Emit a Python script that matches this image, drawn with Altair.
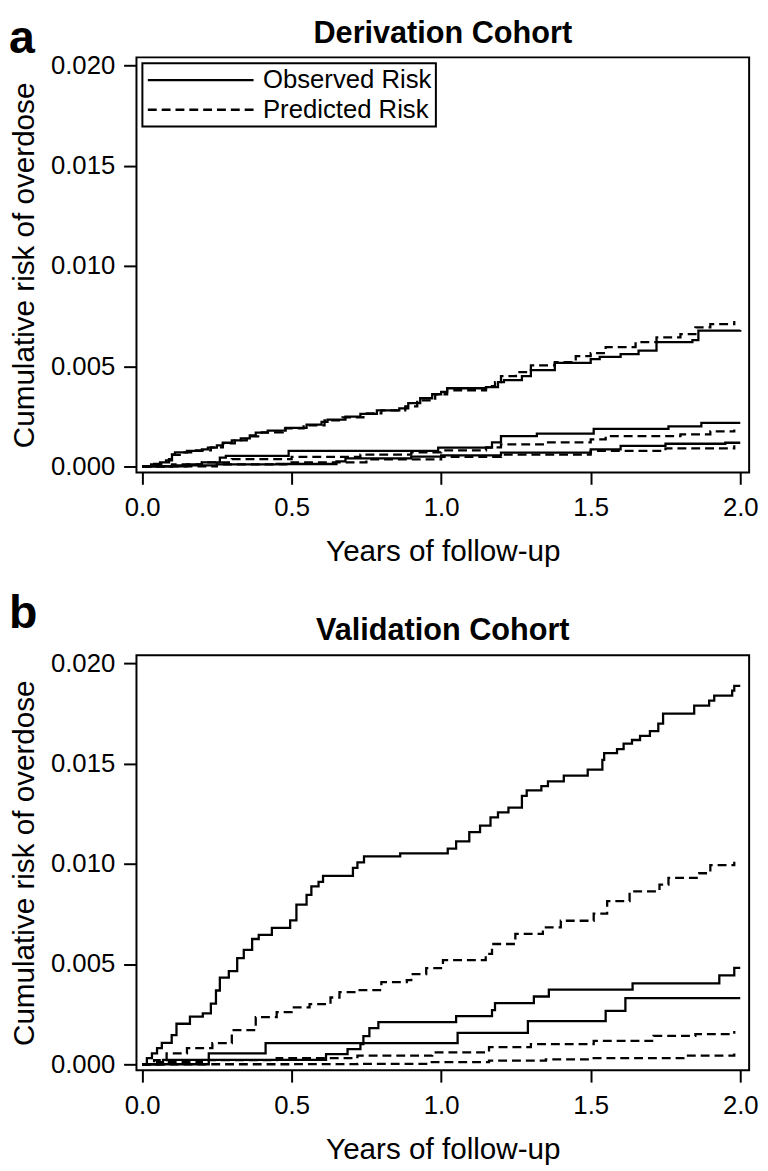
import altair as alt
import pandas as pd

# ---------------- data ----------------
# Derivation cohort (panel a)
der_obs_high = [(0, 0), (0.03, 0.0001), (0.06, 0.0002), (0.09, 0.00036), (0.10, 0.0006), (0.11, 0.0007),
                (0.15, 0.00077), (0.20, 0.00085), (0.22, 0.00094), (0.25, 0.00105), (0.27, 0.00118),
                (0.30, 0.0013), (0.33, 0.0014), (0.36, 0.00155), (0.38, 0.00168), (0.42, 0.00178),
                (0.48, 0.00192), (0.55, 0.00209), (0.60, 0.00222), (0.62, 0.00233), (0.68, 0.00248),
                (0.73, 0.00262), (0.785, 0.0028), (0.86, 0.0029), (0.89, 0.00316), (0.93, 0.0034),
                (0.97, 0.0036), (1.00, 0.00372), (1.02, 0.0039), (1.15, 0.00395), (1.19, 0.0042),
                (1.21, 0.0043), (1.27, 0.0045), (1.30, 0.0048), (1.38, 0.00516), (1.50, 0.00535),
                (1.53, 0.00546), (1.60, 0.0056), (1.66, 0.00578), (1.72, 0.0062), (1.84, 0.0063),
                (1.86, 0.00677), (2.00, 0.0068)]
der_pred_high = [(0, 0), (0.04, 0.00012), (0.08, 0.0003), (0.10, 0.00058), (0.13, 0.0007), (0.18, 0.0008),
                 (0.23, 0.00095), (0.27, 0.00115), (0.31, 0.0013), (0.35, 0.0015), (0.40, 0.0017),
                 (0.47, 0.0019), (0.54, 0.00205), (0.61, 0.0023), (0.67, 0.00245), (0.74, 0.00265),
                 (0.80, 0.0028), (0.88, 0.0030), (0.92, 0.0033), (0.98, 0.0036), (1.02, 0.0038),
                 (1.15, 0.0040), (1.18, 0.0042), (1.20, 0.0045), (1.25, 0.0047), (1.30, 0.00504),
                 (1.38, 0.0052), (1.45, 0.0055), (1.50, 0.00565), (1.55, 0.00595), (1.65, 0.0062),
                 (1.72, 0.00644), (1.80, 0.0066), (1.85, 0.00694), (1.90, 0.0071), (1.98, 0.00726)]
der_obs_mid = [(0, 0), (0.15, 0.0001), (0.20, 0.0002), (0.26, 0.00044), (0.28, 0.00053), (0.49, 0.00077),
               (0.99, 0.00094), (1.17, 0.0012), (1.20, 0.00151), (1.32, 0.00163), (1.51, 0.00187),
               (1.76, 0.0020), (1.87, 0.00217), (2.00, 0.00217)]
der_pred_mid = [(0, 0), (0.10, 0.0001), (0.20, 0.0002), (0.30, 0.00036), (0.50, 0.00048), (0.73, 0.00059),
                (0.90, 0.0007), (1.00, 0.0008), (1.15, 0.00095), (1.20, 0.0011), (1.35, 0.0012),
                (1.50, 0.00135), (1.55, 0.00151), (1.80, 0.0016), (1.90, 0.00175), (1.98, 0.00184)]
der_obs_low = [(0, 0), (0.10, 0.00005), (0.25, 0.0001), (0.45, 0.00012), (0.65, 0.00025), (0.68, 0.0004),
               (0.90, 0.00049), (1.00, 0.00055), (1.20, 0.00069), (1.50, 0.00085), (1.60, 0.00102),
               (1.75, 0.00113), (1.95, 0.00118), (2.00, 0.00118)]
der_pred_low = [(0, 0), (0.25, 0.0001), (0.50, 0.0002), (0.75, 0.00035), (1.00, 0.00048), (1.20, 0.00059),
                (1.50, 0.00077), (1.75, 0.0009), (1.98, 0.00105)]

# Validation cohort (panel b)
val_obs_high = [(0, 0), (0.016, 0.0003), (0.033, 0.00054), (0.05, 0.0008), (0.066, 0.00107), (0.099, 0.00145),
                (0.115, 0.00202), (0.16, 0.00238), (0.203, 0.00254), (0.23, 0.00302), (0.247, 0.00368),
                (0.26, 0.00432), (0.29, 0.00465), (0.318, 0.0053), (0.34, 0.00571), (0.368, 0.00625),
                (0.39, 0.00645), (0.434, 0.00681), (0.495, 0.00718), (0.516, 0.00796), (0.55, 0.00845),
                (0.566, 0.00888), (0.59, 0.0091), (0.605, 0.0094), (0.705, 0.0098), (0.72, 0.01007),
                (0.742, 0.01037), (0.863, 0.01052), (1.022, 0.01076), (1.05, 0.01112), (1.094, 0.01158),
                (1.13, 0.01191), (1.165, 0.01232), (1.19, 0.01257), (1.225, 0.01281), (1.27, 0.01339),
                (1.286, 0.01367), (1.335, 0.01388), (1.357, 0.01412), (1.41, 0.0144), (1.49, 0.0147),
                (1.539, 0.01519), (1.545, 0.01552), (1.588, 0.01572), (1.61, 0.016), (1.638, 0.01618),
                (1.665, 0.01638), (1.698, 0.01662), (1.726, 0.017), (1.742, 0.01749), (1.846, 0.0179),
                (1.896, 0.01814), (1.913, 0.01839), (1.973, 0.01864), (1.98, 0.01888), (2.00, 0.01888)]
val_pred_high = [(0, 0), (0.04, 0.0002), (0.082, 0.00054), (0.15, 0.0008), (0.235, 0.00105), (0.30, 0.0017),
                 (0.38, 0.00235), (0.45, 0.0026), (0.50, 0.00284), (0.56, 0.0030), (0.63, 0.00333),
                 (0.66, 0.0036), (0.72, 0.0037), (0.80, 0.0041), (0.885, 0.0042), (0.90, 0.0045),
                 (0.95, 0.0048), (1.006, 0.00519), (1.149, 0.00551), (1.17, 0.0060), (1.248, 0.0065),
                 (1.34, 0.00683), (1.40, 0.00716), (1.51, 0.00751), (1.555, 0.00814), (1.63, 0.00863),
                 (1.73, 0.00896), (1.76, 0.0093), (1.863, 0.00953), (1.90, 0.00994), (1.98, 0.0101)]
val_obs_mid = [(0, 0), (0.07, 0.00022), (0.615, 0.0005), (0.687, 0.00075), (0.73, 0.0010), (0.74, 0.0014),
               (0.76, 0.0018), (0.79, 0.0021), (1.05, 0.0024), (1.17, 0.0027), (1.18, 0.00305),
               (1.31, 0.00338), (1.36, 0.00372), (1.64, 0.00404), (1.93, 0.00443), (1.98, 0.00481),
               (2.00, 0.00481)]
val_obs_low = [(0, 0), (0.223, 0.00054), (0.413, 0.00105), (1.055, 0.00157), (1.29, 0.00215),
               (1.55, 0.00266), (1.616, 0.0033), (2.00, 0.0033)]
val_pred_mid = [(0, 0), (0.05, 0.0001), (0.20, 0.0002), (0.45, 0.0003), (0.72, 0.00043), (0.97, 0.00059),
                (1.16, 0.00085), (1.30, 0.0010), (1.51, 0.00117), (1.71, 0.00141), (1.85, 0.0015),
                (1.98, 0.00166)]
val_pred_low = [(0, 0), (0.50, 0.00001), (0.72, 0.00002), (0.95, 0.0001), (1.16, 0.00018), (1.35, 0.00024),
                (1.51, 0.0003), (1.81, 0.00043), (1.98, 0.00053)]

risk_types = ["Observed Risk", "Predicted Risk"]
x_ticks = [0, 0.5, 1.0, 1.5, 2.0]
y_ticks = [0, 0.005, 0.010, 0.015, 0.020]
panels = [("a", "Derivation Cohort"), ("b", "Validation Cohort")]


def build_frame(curves):
    rows = []
    for name, kind, pts in curves:
        for x, y in pts:
            rows.append({"curve": name, "type": kind, "x": x, "y": y})
    return pd.DataFrame(rows)


der_df = build_frame([
    ("obs_high", risk_types[0], der_obs_high), ("pred_high", risk_types[1], der_pred_high),
    ("obs_mid", risk_types[0], der_obs_mid), ("pred_mid", risk_types[1], der_pred_mid),
    ("obs_low", risk_types[0], der_obs_low), ("pred_low", risk_types[1], der_pred_low),
])
val_df = build_frame([
    ("obs_high", risk_types[0], val_obs_high), ("pred_high", risk_types[1], val_pred_high),
    ("obs_mid", risk_types[0], val_obs_mid), ("pred_mid", risk_types[1], val_pred_mid),
    ("obs_low", risk_types[0], val_obs_low), ("pred_low", risk_types[1], val_pred_low),
])

FONT = "Liberation Sans"
W, H = 620, 420


def panel(df, letter, title, letter_y):
    lines = alt.Chart(df).mark_line(
        interpolate="step-after", strokeWidth=2.3, color="black", clip=True
    ).encode(
        x=alt.X("x:Q",
                scale=alt.Scale(domain=[-0.0188, 2.0297], nice=False, zero=False),
                axis=alt.Axis(values=x_ticks, format=".1f", title="Years of follow-up",
                              titleY=89, titleBaseline="alphabetic",
                              labelPadding=11, tickSize=12)),
        y=alt.Y("y:Q",
                scale=alt.Scale(domain=[-0.0003, 0.02041], nice=False, zero=False),
                axis=alt.Axis(values=y_ticks, format=".3f", title="Cumulative risk of overdose",
                              titleX=-104, titleY=H / 2, titleAngle=270, titleAlign="center",
                              titleBaseline="alphabetic",
                              labelPadding=9, tickSize=13)),
        strokeDash=alt.StrokeDash(
            "type:N",
            scale=alt.Scale(domain=risk_types, range=[[1, 0], [9, 5]]),
            legend=alt.Legend(title=None, orient="top-left", offset=6, padding=4,
                              rowPadding=4, clipHeight=26, symbolType="stroke",
                              symbolSize=11449, symbolStrokeWidth=2.3, symbolStrokeColor="black",
                              labelOffset=8, labelFontSize=26, labelFont=FONT, labelColor="black",
                              labelLimit=0, strokeColor="black", fillColor="white"),
        ),
        detail="curve:N",
    )
    lab = alt.Chart(pd.DataFrame({"letter": [letter], "title": [title]}))
    letter_mark = lab.mark_text(align="left", baseline="alphabetic", fontSize=47, fontWeight="bold",
                                font=FONT, color="black").encode(
        text="letter:N", x=alt.value(-129), y=alt.value(letter_y))
    title_mark = lab.mark_text(align="center", baseline="alphabetic", fontSize=31, fontWeight="bold",
                               font=FONT, color="black").encode(
        text="title:N", x=alt.value(W / 2), y=alt.value(-15))
    return alt.layer(lines, letter_mark, title_mark).properties(width=W, height=H)


chart = alt.vconcat(
    panel(der_df, *panels[0], letter_y=-4),
    panel(val_df, *panels[1], letter_y=-28),
    spacing=185, bounds="flush",
).properties(
    padding={"left": 0, "top": 0, "right": 0, "bottom": 0}, background="white"
).configure_view(
    stroke="black", strokeWidth=2
).configure_axis(
    domain=False, grid=False, tickColor="black", tickWidth=2,
    labelFont=FONT, labelFontSize=26, labelColor="black",
    titleFont=FONT, titleFontSize=30, titleFontWeight="normal", titleColor="black",
).configure_legend(
    strokeWidth=2
)

chart.save("out.html", embed_options={"renderer": "svg", "actions": False})
